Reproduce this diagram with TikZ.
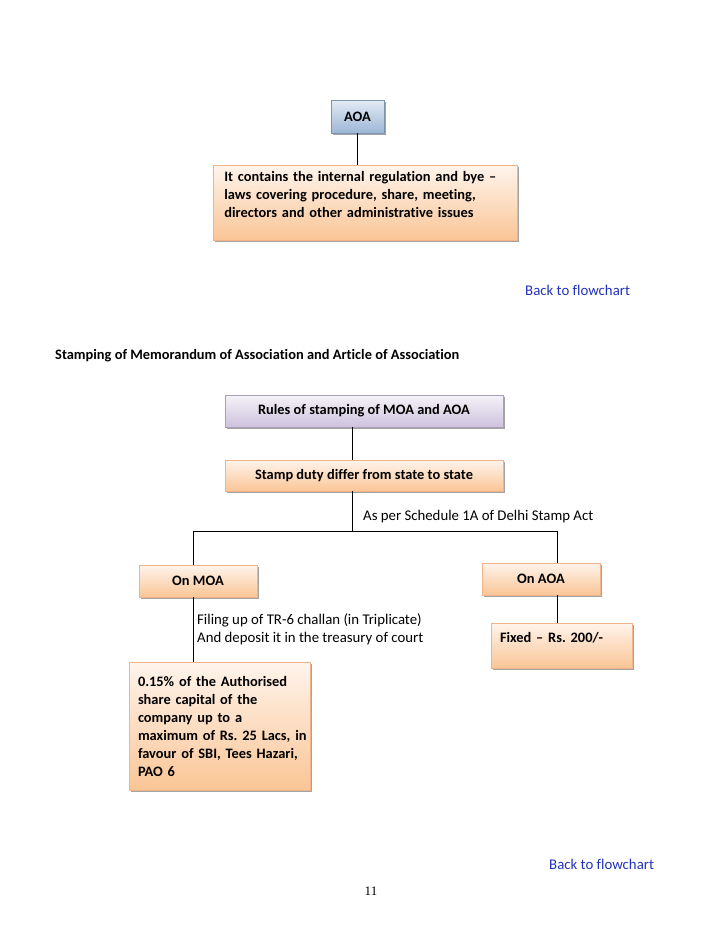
\documentclass[tikz,border=0pt]{standalone}
\usepackage{fontspec}
\setmainfont{Carlito}[Ligatures=CommonOff]
\newfontfamily\tnr{Liberation Serif}
\usetikzlibrary{shadows}
\frenchspacing
\definecolor{orBot}{HTML}{FAC596}
\definecolor{orTop}{HTML}{FFF4EC}
\definecolor{orLine}{HTML}{F0B48A}
\definecolor{blBot}{HTML}{9DB6D6}
\definecolor{blTop}{HTML}{E3EBF5}
\definecolor{blLine}{HTML}{7F93AD}
\definecolor{lvBot}{HTML}{CDC2DD}
\definecolor{lvTop}{HTML}{F5F2F9}
\definecolor{lvLine}{HTML}{A9A0B8}
\definecolor{linkblue}{HTML}{2233BB}
\newcommand{\fsz}{\fontsize{14.8}{18}\selectfont}
\newcommand{\fszb}{\fontsize{14.4}{18}\selectfont\bfseries}
\tikzset{
  boxbase/.style={rectangle, inner sep=0pt, draw, line width=0.7pt,
    font=\fszb,
    drop shadow={shadow xshift=1.6pt, shadow yshift=-2pt, fill=black!65, opacity=0.55}},
  orbox/.style={boxbase, draw=orLine, top color=orTop, bottom color=orBot},
  blbox/.style={boxbase, draw=blLine, top color=blTop, bottom color=blBot},
  lvbox/.style={boxbase, draw=lvLine, top color=lvTop, bottom color=lvBot},
  conn/.style={draw=black, line width=0.9pt},
  lbl/.style={anchor=west, inner sep=0pt, align=left, font=\fsz},
  linktext/.style={anchor=west, inner sep=0pt, text=linkblue, font=\fsz}
}
\begin{document}
\begin{tikzpicture}[x=1pt,y=-1pt]
\useasboundingbox[fill=white] (0,0) rectangle (728,943);

% top part
\node[blbox, minimum width=53pt, minimum height=33pt] (aoa) at (357.5,116.5) {AOA};
\node[orbox, anchor=north west, minimum width=304pt, inner xsep=11pt, inner ysep=5pt, text width=282pt, text height=11pt, text depth=54pt, align=left] (desc) at (213,165)
  {\mbox{It contains the internal regulation and bye –}\\\mbox{laws covering procedure, share, meeting,}\\\mbox{directors and other administrative issues}};
\coordinate (a0) at (357,133);
\draw[conn] (a0) -- (a0 |- desc.north);

\node[linktext] (back1) at (525,290) {Back to flowchart};

\node[lbl, font=\fszb] (head) at (55,355.5) {Stamping of Memorandum of Association and Article of Association};

% stamping chart
\node[lvbox, minimum width=278pt, minimum height=32pt] (rules) at (364,411) {Rules of stamping of MOA and AOA};
\node[orbox, minimum width=278pt, minimum height=31pt] (stamp) at (364,475.5) {Stamp duty differ from state to state};
\coordinate (r0) at (352,427);
\draw[conn] (r0) -- (r0 |- stamp.north);

\coordinate (s0) at (352,491);
\coordinate (j) at (352,531);
\coordinate (jl) at (193,531);
\coordinate (jr) at (557,531);
\draw[conn] (s0) -- (j);
\draw[conn] (jl) -- (jr);
\node[lbl] (sched) at (363,517) {As per Schedule 1A of Delhi Stamp Act};

\node[orbox, minimum width=118pt, minimum height=32pt, text height=12pt, text depth=4pt] (onmoa) at (198,581) {On MOA};
\node[orbox, minimum width=118pt, minimum height=32pt, text height=12pt, text depth=4pt] (onaoa) at (541,579) {On AOA};
\draw[conn] (jl) -- (jl |- onmoa.north);
\draw[conn] (jr) -- (jr |- onaoa.north);

\node[orbox, minimum width=181pt, minimum height=128pt, inner xsep=9pt, text width=163pt, align=left] (pct) at (219.5,726)
  {\mbox{0.15\% of the Authorised}\\\mbox{share capital of the}\\\mbox{company up to a}\\\mbox{maximum of Rs. 25 Lacs, in}\\\mbox{favour of SBI, Tees Hazari,}\\\mbox{PAO 6}};
\node[orbox, minimum width=141pt, inner xsep=9pt, inner ysep=5pt, text width=123pt, text height=14pt, text depth=21pt, align=left] (fixed) at (561.5,645.5)
  {Fixed – Rs. 200/-};

\coordinate (m0) at (193,597);
\coordinate (f0) at (557,595);
\draw[conn] (m0) -- (m0 |- pct.north);
\draw[conn] (f0) -- (f0 |- fixed.north);
\node[lbl] (filing) at (197,629) {Filing up of TR-6 challan (in Triplicate)\\And deposit it in the treasury of court};

\node[linktext] (back2) at (549,864) {Back to flowchart};
\node[inner sep=0pt, font=\tnr\fontsize{13}{15}\selectfont] (pg) at (371,891) {11};
\end{tikzpicture}
\end{document}
